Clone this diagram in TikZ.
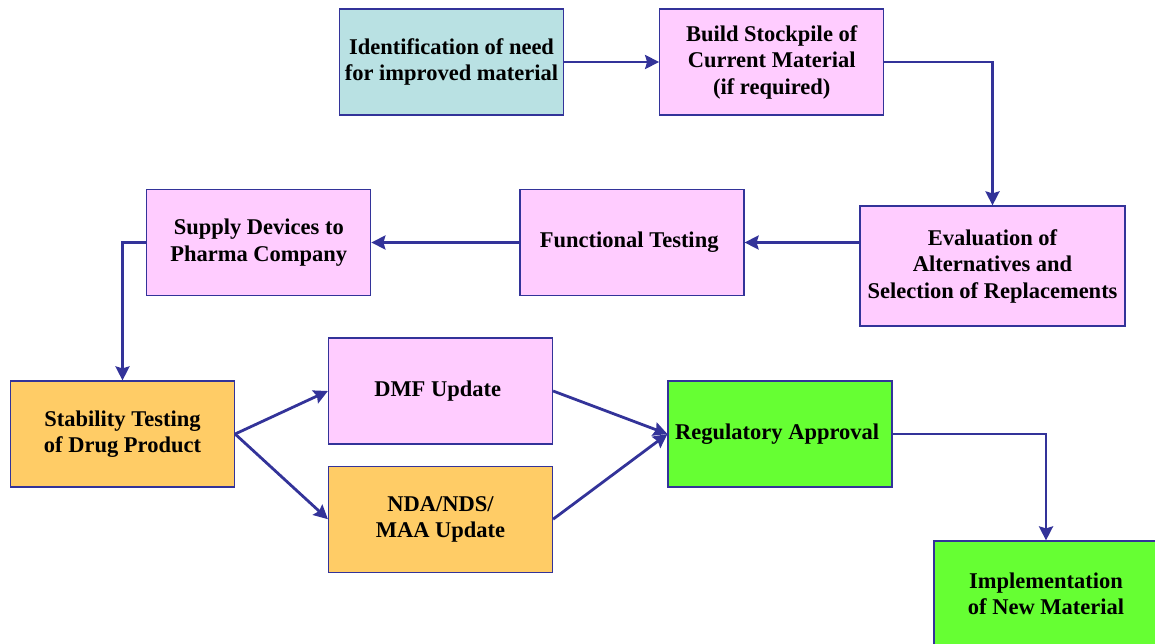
\documentclass[tikz,border=0pt]{standalone}
\usepackage{fontspec}
\setmainfont{Liberation Serif}
\usetikzlibrary{positioning,arrows.meta}

\definecolor{idfill}{HTML}{B9E1E3}
\definecolor{pinkfill}{HTML}{FFCCFF}
\definecolor{orangefill}{HTML}{FFCC66}
\definecolor{greenfill}{HTML}{66FF33}
\definecolor{flowblue}{HTML}{333399}

\begin{document}
\begin{tikzpicture}[x=1pt, y=1pt, font=\fontsize{22.5}{26.5}\selectfont\bfseries,
	block/.style = { rectangle, draw=flowblue, line width=1.2pt, fill=pinkfill,
	align=center, minimum width=224pt, minimum height=106pt, inner sep=2pt },
	flow/.style = { draw=flowblue, line width=2.8pt,
	-{Stealth[length=14pt, width=14pt, inset=2pt]} } ]

  \useasboundingbox (0,0) rectangle (1155,-643);
  \clip (0,0) rectangle (1155,-643);

  \node [name=ident, block, fill=idfill] at (451.5,-62)
	{ Identification of need\\ for improved material };
  \node [name=build, block, right=95pt of ident]
	{ Build Stockpile of\\ Current Material\\ (if required) };
  \node [name=eval, block, minimum width=265pt, minimum height=120pt]
	at (992.5,-266)
	{ Evaluation of\\ Alternatives and\\ Selection of Replacements };
  \node [name=func, block] at (632,-242.5) { Functional Testing };
  \node [name=supply, block, left=148pt of func]
	{ Supply Devices to\\ Pharma Company };
  \node [name=stab, block, fill=orangefill] at (122.5,-434)
	{ Stability Testing\\ of Drug Product };
  \node [name=dmf, block] at (440.5,-391) { DMF Update };
  \node [name=nda, block, fill=orangefill, below=21pt of dmf]
	{ NDA/NDS/\\ MAA Update };
  \node [name=reg, block, fill=greenfill] at (780,-434) { Regulatory Approval };
  \node [name=impl, block, fill=greenfill] at (1046,-594)
	{ Implementation\\ of New Material };

  \draw [flow] (ident) -- (build);
  \draw [flow] (build.east) -| (eval.north);
  \draw [flow] (eval.west |- func.east) -- (func.east);
  \draw [flow] (func) -- (supply);
  \draw [flow] (supply.west) -| (stab.north);
  \draw [flow] (stab.east) -- (dmf.west);
  \draw [flow] (stab.east) -- (nda.west);
  \draw [flow] (dmf.east) -- (reg.west);
  \draw [flow] (nda.east) -- (reg.west);
  \draw [flow] (reg.east) -| (impl.north);
\end{tikzpicture}
\end{document}
